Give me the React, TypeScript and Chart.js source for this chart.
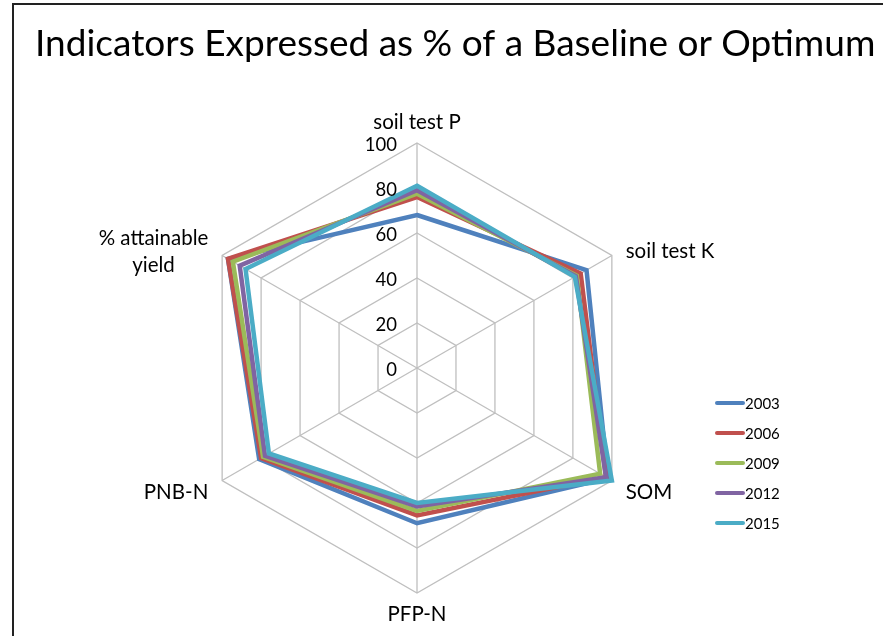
import React, { useEffect, useRef } from "react";
import { Chart, registerables } from "chart.js";

Chart.register(...registerables);

const TITLE = "Indicators Expressed as % of a Baseline or Optimum";
const categories: string[][] = [
  ["soil test P"],
  ["soil test K"],
  ["SOM"],
  ["PFP-N"],
  ["PNB-N"],
  ["% attainable", "yield"],
];
const seriesNames = ["2003", "2006", "2009", "2012", "2015"];
const seriesColors = ["#4F81BD", "#C0504D", "#9BBB59", "#8064A2", "#4BACC6"];
const values2003 = [68, 87, 98, 69, 81, 97];
const values2006 = [76, 84, 97, 65.5, 80, 97];
const values2009 = [77.5, 82, 94, 63.5, 79, 94.5];
const values2012 = [79, 81.5, 97, 61.5, 78, 91];
const values2015 = [81, 81, 100, 60, 76, 88];
const seriesValues = [values2003, values2006, values2009, values2012, values2015];
const axisMin = 0;
const axisMax = 100;
const axisStep = 20;

const FONT = 'Lato, "Noto Sans", sans-serif';

const overlay = {
  id: "overlay",
  afterDraw(chart: any) {
    const ctx: CanvasRenderingContext2D = chart.ctx;
    const scale = chart.scales.r;
    ctx.save();
    // title
    ctx.fillStyle = "#000";
    ctx.font = `37px ${FONT}`;
    ctx.textAlign = "left";
    ctx.textBaseline = "alphabetic";
    ctx.fillText(TITLE, 35, 56);

    // tick labels
    ctx.font = `18.5px ${FONT}`;
    ctx.textAlign = "right";
    ctx.textBaseline = "middle";
    ctx.fillStyle = "#000";
    scale.ticks.forEach((t: any) => {
      const d = scale.getDistanceFromCenterForValue(t.value);
      ctx.fillText(String(t.value), scale.xCenter - 20, scale.yCenter - d + 2);
    });

    // point labels
    ctx.font = `20.5px ${FONT}`;
    categories.forEach((lines, i) => {
      const probe = scale.getPointPosition(i, scale.drawingArea);
      const c = Math.cos(probe.angle);
      const vertical = Math.abs(c) < 0.01;
      const p = scale.getPointPosition(i, scale.drawingArea + (vertical ? 21 : 16));
      const cy = vertical ? p.y : p.y + 4;
      const widths = lines.map((l) => ctx.measureText(l).width);
      const bw = Math.max(...widths);
      let cx: number;
      if (vertical) cx = p.x;
      else if (c > 0) cx = p.x + bw / 2;
      else cx = p.x - bw / 2;
      const lh = 27;
      ctx.textAlign = "center";
      ctx.textBaseline = "middle";
      lines.forEach((l, j) => {
        ctx.fillText(l, cx, cy + (j - (lines.length - 1) / 2) * lh);
      });
    });

    // legend
    ctx.font = `15px ${FONT}`;
    ctx.textAlign = "left";
    ctx.textBaseline = "middle";
    seriesNames.forEach((n, i) => {
      const y = 403 + i * 30;
      ctx.strokeStyle = seriesColors[i];
      ctx.lineWidth = 4;
      ctx.lineCap = "round";
      ctx.beginPath();
      ctx.moveTo(717, y);
      ctx.lineTo(743, y);
      ctx.stroke();
      ctx.fillStyle = "#000";
      ctx.fillText(n, 745, y + 1);
    });
    ctx.restore();
  },
};

export default function App() {
  const ref = useRef<HTMLCanvasElement | null>(null);
  useEffect(() => {
    if (!ref.current) return;
    const chart = new Chart(ref.current, {
      type: "radar",
      data: {
        labels: categories.map((l) => l.join(" ")),
        datasets: seriesNames.map((n, i) => ({
          label: n,
          data: seriesValues[i],
          borderColor: seriesColors[i],
          backgroundColor: seriesColors[i],
          borderWidth: 4.5,
          pointRadius: 0,
          pointHoverRadius: 0,
          fill: false,
          tension: 0,
          order: seriesNames.length - i,
        })),
      },
      options: {
        responsive: false,
        animation: false,
        devicePixelRatio: 1,
        layout: { padding: { left: 40, right: 89, top: 143, bottom: 42 } },
        plugins: {
          legend: { display: false },
          title: { display: false },
          tooltip: { enabled: false },
        },
        scales: {
          r: {
            min: axisMin,
            max: axisMax,
            ticks: { stepSize: axisStep, display: false },
            pointLabels: { display: false },
            grid: { color: "#BFBFBF", lineWidth: 1.3 },
            angleLines: { color: "#BFBFBF", lineWidth: 1.3 },
          },
        },
      },
      plugins: [overlay],
    } as any);
    return () => chart.destroy();
  }, []);
  return (
    <div>
      <canvas
        ref={ref}
        width={883}
        height={636}
        style={{ position: "fixed", left: 0, top: 0, width: 883, height: 636, background: "#fff" }}
      />
      <div
        style={{
          position: "fixed",
          left: 12,
          top: 3,
          width: 1000,
          height: 1000,
          borderLeft: "2px solid #222",
          borderTop: "2px solid #222",
          pointerEvents: "none",
        }}
      />
    </div>
  );
}
